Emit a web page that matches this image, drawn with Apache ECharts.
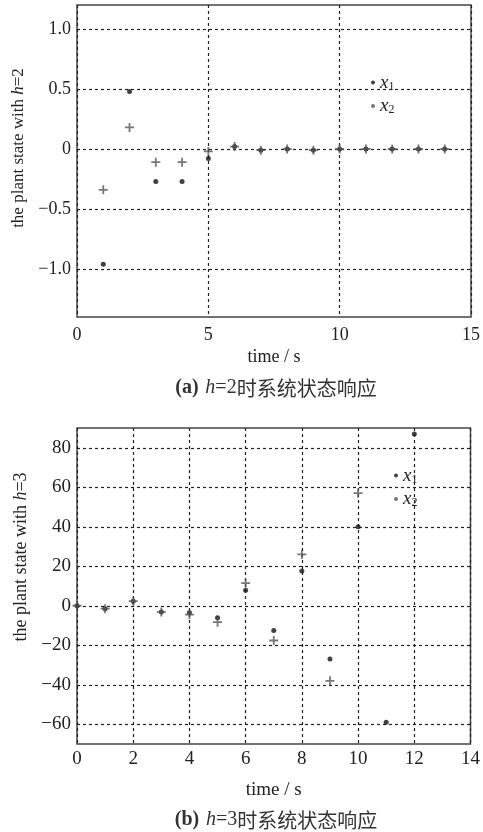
<!DOCTYPE html>
<html>
<head>
<meta charset="utf-8">
<script src="https://cdn.jsdelivr.net/npm/echarts@6/dist/echarts.min.js"></script>
<style>
  html, body { margin: 0; padding: 0; background: #fff; }
  #main { width: 483px; height: 832px; }
</style>
</head>
<body>
<div id="main"></div>
<script>
// (a) h=2
const timeA = [1, 2, 3, 4, 5, 6, 7, 8, 9, 10, 11, 12, 13, 14];
const x1A = [-0.96, 0.48, -0.27, -0.27, -0.08, 0.02, -0.01, 0, -0.01, 0, 0, 0, 0, 0];
const x2A = [-0.34, 0.18, -0.11, -0.11, -0.02, 0.02, -0.01, 0, -0.01, 0, 0, 0, 0, 0];
const yTicksA = [-1.0, -0.5, 0, 0.5, 1.0];
// (b) h=3
const timeB = [0, 1, 2, 3, 4, 5, 6, 7, 8, 9, 10, 11, 12];
const x1B = [0, -1.5, 2.3, -3.2, -3.5, -6.1, 7.8, -12.5, 17.6, -27, 40, -59, 87];
const x2B = [0, -1.5, 2.3, -3.2, -4.5, -8.3, 11.5, -17.6, 26, -38, 57, null, null];
const yTicksB = [-60, -40, -20, 0, 20, 40, 60, 80];

const serif = '"Liberation Serif", "Times New Roman", serif';
const cjk = '"Noto Sans CJK SC", sans-serif';
const plus = 'path://M4,0h2v4h4v2h-4v4h-2v-4h-4v-2h4z';

const pairs = (xs, ys) => xs.map((t, i) => [t, ys[i]]).filter(p => p[1] !== null);
const minus = s => String(s).replace('-', '\u2212');

var chart = echarts.init(document.getElementById('main'));

var gridLine = { show: true, lineStyle: { color: '#222', type: [3, 3], width: 1.2 } };
var legendBase = {
  orient: 'vertical',
  icon: 'circle',
  itemWidth: 4,
  itemHeight: 4,
  itemGap: 4,
  data: ['x1', 'x2'],
  formatter: n => '{i|x}{s|' + n.slice(1) + '}',
  textStyle: {
    color: '#222',
    rich: {
      i: { fontFamily: serif, fontStyle: 'italic', fontSize: 19 },
      s: { fontFamily: serif, fontSize: 12, padding: [8, 0, 0, 0] }
    }
  }
};

function yAxis(idx, min, max, ticks, fs, name, pad, gap, fmt) {
  return {
    gridIndex: idx, type: 'value', min: min, max: max,
    name: name, nameLocation: 'middle', nameGap: gap, nameRotate: 90,
    nameTextStyle: {
      fontFamily: serif, fontSize: fs - 1, color: '#222', padding: [0, 0, 0, pad],
      rich: { i: { fontFamily: serif, fontStyle: 'italic', fontSize: fs - 1 } }
    },
    axisLine: { show: false },
    axisTick: { show: false, customValues: ticks },
    axisLabel: { fontFamily: serif, fontSize: fs, color: '#222', margin: 6,
      customValues: ticks, formatter: fmt },
    splitLine: gridLine
  };
}

function xAxis(idx, max, interval, fs, margin, gap) {
  return {
    gridIndex: idx, type: 'value', min: 0, max: max, interval: interval,
    name: 'time / s', nameLocation: 'middle', nameGap: gap,
    nameTextStyle: { fontFamily: serif, fontSize: fs, color: '#222' },
    axisLine: { show: false }, axisTick: { show: false },
    axisLabel: { fontFamily: serif, fontSize: fs, color: '#222', margin: margin },
    splitLine: gridLine
  };
}

function dots(name, idx, data, symbol, size, color) {
  return {
    name: name, type: 'scatter', xAxisIndex: idx, yAxisIndex: idx,
    data: data, symbol: symbol, symbolSize: size,
    itemStyle: { color: color }
  };
}

function caption(y, tag, h) {
  return { type: 'text', x: 276, y: y, style: {
    text: '{b|' + tag + '}  {i|h}{n|=' + h + '}{c|时系统状态响应}',
    align: 'center', verticalAlign: 'middle', fill: '#333',
    rich: {
      b: { fontFamily: serif, fontSize: 20, fontWeight: 'bold', fill: '#333' },
      i: { fontFamily: serif, fontSize: 20, fontStyle: 'italic', fill: '#333' },
      n: { fontFamily: serif, fontSize: 20, fill: '#333' },
      c: { fontFamily: cjk, fontSize: 20, fill: '#333' }
    } } };
}

var option = {
  animation: false,
  grid: [
    { left: 77, top: 5, right: 8, height: 312, show: true, borderColor: '#444', borderWidth: 1.5 },
    { left: 77, top: 428, right: 7, height: 316, show: true, borderColor: '#444', borderWidth: 1.5 }
  ],
  xAxis: [
    xAxis(0, 15, 5, 18, 9, 31),
    xAxis(1, 14, 2, 19, 6, 37)
  ],
  yAxis: [
    yAxis(0, -1.4, 1.2, yTicksA, 18, 'the plant state with {i|h}=2', 26, 45,
      v => v === 0 ? '0' : minus(v.toFixed(1))),
    yAxis(1, -70, 90, yTicksB, 19, 'the plant state with {i|h}=3', 58, 41,
      v => minus(v))
  ],
  legend: [
    Object.assign({ left: 366, top: 68 }, legendBase),
    Object.assign({ left: 389, top: 461 }, legendBase)
  ],
  series: [
    dots('x1', 0, pairs(timeA, x1A), 'circle', 5, '#111'),
    dots('x2', 0, pairs(timeA, x2A), plus, 9, '#555'),
    dots('x1', 1, pairs(timeB, x1B), 'circle', 5, '#111'),
    dots('x2', 1, pairs(timeB, x2B), plus, 9, '#555')
  ],
  graphic: [
    caption(388, '(a)', 2),
    caption(820, '(b)', 3)
  ]
};

chart.setOption(option);
</script>
</body>
</html>
